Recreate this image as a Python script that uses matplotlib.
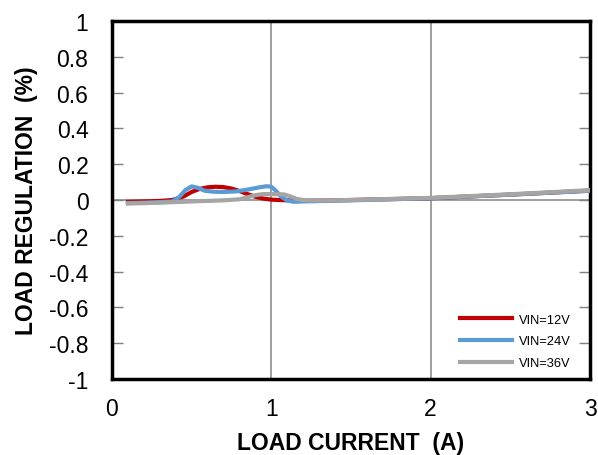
import matplotlib.pyplot as plt

plt.rcParams['font.family'] = ['Liberation Sans', 'DejaVu Sans']

# load current (A) and load regulation (%)
i_12 = [0.1, 0.2, 0.3, 0.38, 0.45, 0.5, 0.55, 0.6, 0.65, 0.7, 0.75, 0.8, 0.85, 0.9, 0.95, 1.0, 1.05, 1.2, 1.5, 2.0, 2.5, 3.0]
reg_12 = [-0.01, -0.008, -0.005, 0.0, 0.02, 0.045, 0.062, 0.071, 0.074, 0.072, 0.064, 0.05, 0.033, 0.018, 0.008, 0.002, 0.0, -0.005, 0.0, 0.01, 0.03, 0.052]

i_24 = [0.1, 0.2, 0.3, 0.38, 0.42, 0.46, 0.5, 0.54, 0.58, 0.64, 0.7, 0.78, 0.85, 0.92, 0.97, 1.0, 1.03, 1.06, 1.1, 1.14, 1.2, 1.5, 2.0, 2.5, 3.0]
reg_24 = [-0.017, -0.015, -0.012, -0.008, 0.015, 0.055, 0.076, 0.068, 0.052, 0.046, 0.045, 0.048, 0.058, 0.07, 0.077, 0.074, 0.05, 0.02, -0.003, -0.01, -0.008, -0.002, 0.01, 0.03, 0.052]

i_36 = [0.1, 0.3, 0.5, 0.7, 0.8, 0.85, 0.9, 0.95, 1.02, 1.08, 1.12, 1.16, 1.2, 1.3, 1.5, 2.0, 2.5, 3.0]
reg_36 = [-0.02, -0.015, -0.008, -0.002, 0.004, 0.015, 0.027, 0.033, 0.033, 0.031, 0.02, 0.006, 0.0, -0.003, 0.0, 0.012, 0.032, 0.055]

x_ticks = [0, 1, 2, 3]
y_ticks = [-1, -0.8, -0.6, -0.4, -0.2, 0, 0.2, 0.4, 0.6, 0.8, 1]
y_labels = ['-1', '-0.8', '-0.6', '-0.4', '-0.2', '0', '0.2', '0.4', '0.6', '0.8', '1']

fig = plt.figure(figsize=(5.98, 4.56), dpi=100)
ax = fig.add_axes([112 / 598, 76 / 456, 478 / 598, 358 / 456])

ax.plot(i_12, reg_12, color='#C00000', lw=3, label='VIN=12V', zorder=3)
ax.plot(i_24, reg_24, color='#5B9BD5', lw=3, label='VIN=24V', zorder=4)
ax.plot(i_36, reg_36, color='#A5A5A5', lw=3, label='VIN=36V', zorder=5)

ax.set_xlim(0, 3)
ax.set_ylim(-1, 1)
ax.set_xticks(x_ticks)
ax.set_yticks(y_ticks)
ax.set_yticklabels(y_labels)
ax.tick_params(axis='both', labelsize=16.5, colors='#808080', labelcolor='black')
ax.tick_params(axis='y', direction='in', length=8, width=1, right=True, pad=17)
ax.tick_params(axis='x', length=0, pad=13)

for x in x_ticks[1:-1]:
    ax.axvline(x, color='#969696', lw=1.3, zorder=1)
ax.axhline(0, color='#969696', lw=1.3, zorder=1)

for s in ax.spines.values():
    s.set_linewidth(2.5)
    s.set_color('black')

ax.set_xlabel('LOAD CURRENT  (A)', fontsize=16.5, fontweight='bold', labelpad=8)
ax.set_ylabel('LOAD REGULATION  (%)', fontsize=16.5, fontweight='bold', labelpad=8)

ax.legend(loc='lower right', fontsize=9.3, frameon=False, handlelength=4.0,
          handletextpad=0.6, bbox_to_anchor=(0.985, -0.005), labelspacing=0.75)

fig.savefig('out.png', dpi=100)
